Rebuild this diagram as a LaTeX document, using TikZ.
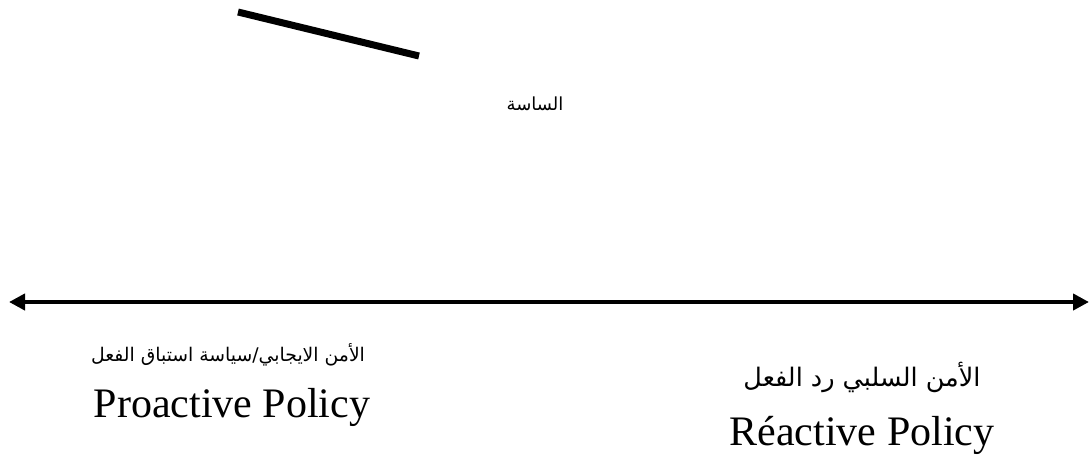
\documentclass[tikz,border=0pt]{standalone}
\usepackage{fontspec}
\setmainfont{Liberation Serif}
\newfontfamily\arabicfont[Script=Arabic]{DejaVu Sans}
\TeXXeTstate=1
\usetikzlibrary{arrows.meta}
\tikzset{
  artext/.style={inner sep=0pt, font=\arabicfont},
  entext/.style={inner sep=0pt, anchor=base, font=\fontsize{42}{50}\selectfont},
  axis/.style={line width=4pt, {Triangle[length=16pt,width=16pt]}-{Triangle[length=16pt,width=16pt]}},
  bar/.style={line width=7pt}
}
\begin{document}
\begin{tikzpicture}[x=1pt,y=-1pt]
\useasboundingbox (0,0) rectangle (1090,456);
\coordinate (b1) at (238,12);
\coordinate (b2) at (419,56);
\draw[bar] (b1) -- (b2);
\node[artext, font=\arabicfont\fontsize{18}{22}\selectfont] (title) at (535,104) {\beginR الساسة\endR};
\coordinate (aL) at (9,302);
\coordinate (aR) at (1089,302);
\draw[axis] (aL) -- (aR);
\node[artext, font=\arabicfont\fontsize{18.8}{22}\selectfont] (leftar) at (228,355) {\beginR الأمن الايجابي/سياسة استباق الفعل\endR};
\node[entext] (pro) at (232,417) {Proactive Policy};
\node[artext, font=\arabicfont\fontsize{25.5}{30}\selectfont] (rightar) at (862,377) {\beginR الأمن السلبي رد الفعل\endR};
\node[entext] (rea) at (862,445) {Réactive Policy};
\end{tikzpicture}
\end{document}
